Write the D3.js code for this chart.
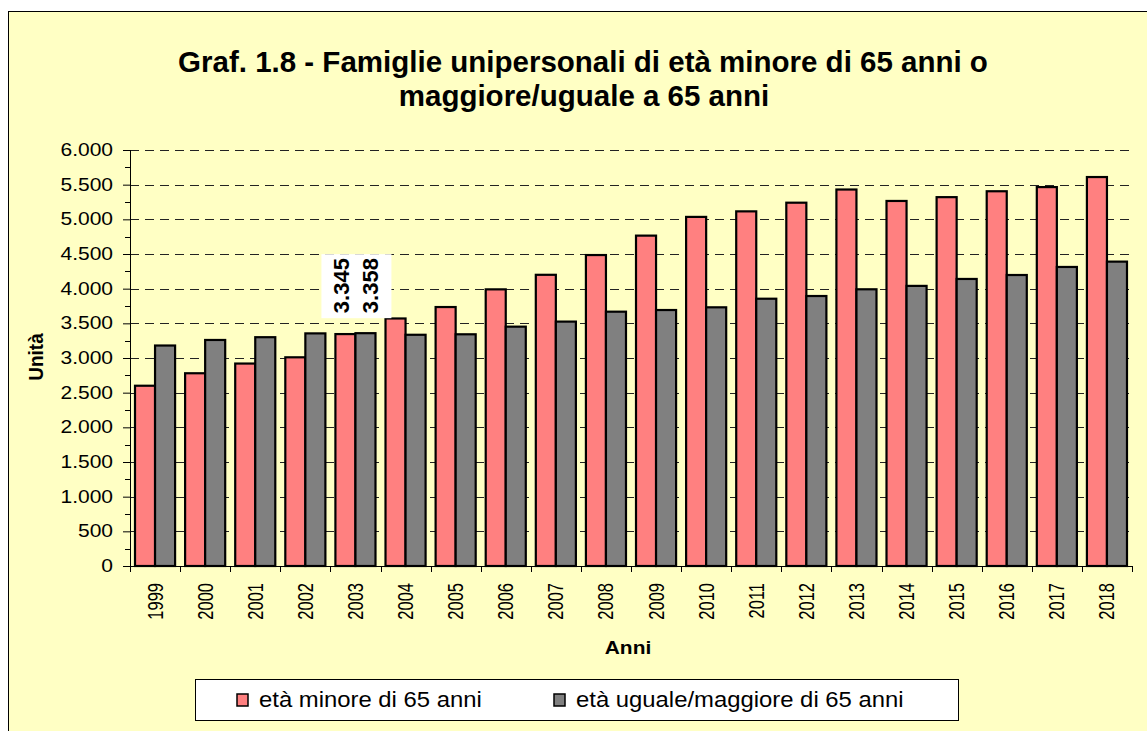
<!DOCTYPE html>
<html>
<head>
<meta charset="utf-8">
<script src="https://cdn.jsdelivr.net/npm/d3@7"></script>
<style>
  body { margin: 0; background: #fff; }
  svg { display: block; font-family: "Liberation Sans", Arial, sans-serif; }
</style>
</head>
<body>
<div id="chart"></div>
<script>
const years = ["1999", "2000", "2001", "2002", "2003", "2004", "2005", "2006", "2007", "2008",
  "2009", "2010", "2011", "2012", "2013", "2014", "2015", "2016", "2017", "2018"];
const under65 = [2600, 2780, 2920, 3010, 3345, 3570, 3735, 3990, 4200, 4485,
  4765, 5035, 5115, 5240, 5430, 5265, 5320, 5405, 5465, 5610];
const over65 = [3180, 3260, 3300, 3355, 3358, 3335, 3342, 3452, 3525, 3668,
  3692, 3731, 3855, 3894, 3991, 4040, 4140, 4197, 4313, 4390];
const seriesNames = ["età minore di 65 anni", "età uguale/maggiore di 65 anni"];
const yTicks = [0, 500, 1000, 1500, 2000, 2500, 3000, 3500, 4000, 4500, 5000, 5500, 6000];
const labelled = ["2003"];

const W = 1147, H = 731;
const colors = ["#FF8080", "#808080"];
const bg = "#FFFFC4";
const plot = { left: 130, right: 1132, top: 150, bottom: 566 };
const fmt = v => d3.format(",")(v).replace(/,/g, ".");

const svg = d3.select("#chart").append("svg")
  .attr("width", W).attr("height", H);

// sfondo del grafico
svg.append("rect")
  .attr("x", 8.5).attr("y", 11.5)
  .attr("width", W).attr("height", H)
  .attr("fill", bg).attr("stroke", "#000").attr("stroke-width", 1);

// titolo
const title = svg.append("text")
  .attr("text-anchor", "middle")
  .attr("font-weight", "bold").attr("font-size", 29.5);
title.append("tspan").attr("x", 583).attr("y", 72)
  .text("Graf. 1.8 - Famiglie unipersonali di età minore di 65 anni o");
title.append("tspan").attr("x", 584).attr("y", 106)
  .text("maggiore/uguale a 65 anni");

const x = d3.scaleBand().domain(years).range([plot.left, plot.right]).paddingInner(0.2).paddingOuter(0.1);
const xb = d3.scaleBand().domain(years).range([plot.left, plot.right]);
const xs = d3.scaleBand().domain([0, 1]).range([0, x.bandwidth()]);
const y = d3.scaleLinear().domain([0, 6000]).range([plot.bottom, plot.top]);

// griglia
svg.append("g").selectAll("line")
  .data(yTicks.filter(d => d > 0))
  .join("line")
  .attr("x1", plot.left).attr("x2", plot.right)
  .attr("y1", d => Math.round(y(d)) + 0.5).attr("y2", d => Math.round(y(d)) + 0.5)
  .attr("stroke", "#222").attr("stroke-dasharray", "9,6");

// barre
const groups = svg.append("g").selectAll("g")
  .data(years.map((yr, i) => ({ yr, vals: [under65[i], over65[i]] })))
  .join("g")
  .attr("transform", d => `translate(${x(d.yr)},0)`);

groups.selectAll("rect")
  .data(d => d.vals.map((v, k) => ({ v, k })))
  .join("rect")
  .attr("x", d => xs(d.k))
  .attr("y", d => y(d.v))
  .attr("width", xs.bandwidth())
  .attr("height", d => y(0) - y(d.v))
  .attr("fill", d => colors[d.k])
  .attr("stroke", "#000").attr("stroke-width", 2.2);

// asse y
const yAxis = svg.append("g")
  .attr("transform", `translate(${plot.left},0)`)
  .call(d3.axisLeft(y).tickValues(yTicks).tickFormat(fmt).tickSize(7));
yAxis.select(".domain").attr("d", `M0.5,${plot.top}V${plot.bottom}`).attr("stroke", "#000");
yAxis.selectAll(".tick line").attr("stroke", "#000");
yAxis.selectAll(".tick text")
  .attr("x", 0)
  .attr("transform", "translate(-17,0) scale(1.2,1)")
  .attr("font-size", 17.5).attr("fill", "#000")
  .attr("font-family", "Liberation Sans, Arial, sans-serif");

// tacche secondarie
svg.append("g").selectAll("line")
  .data(d3.range(250, 6000, 500))
  .join("line")
  .attr("x1", plot.left - 5).attr("x2", plot.left)
  .attr("y1", d => Math.round(y(d)) + 0.5).attr("y2", d => Math.round(y(d)) + 0.5)
  .attr("stroke", "#000");

// asse x
const xAxisG = svg.append("g").attr("transform", `translate(0,${plot.bottom})`);
xAxisG.append("line")
  .attr("x1", plot.left).attr("x2", plot.right)
  .attr("y1", 0.5).attr("y2", 0.5).attr("stroke", "#000");
xAxisG.selectAll("line.tk")
  .data(years.concat(["end"]))
  .join("line").attr("class", "tk")
  .attr("x1", (d, i) => Math.round(plot.left + i * xb.step()) + 0.5)
  .attr("x2", (d, i) => Math.round(plot.left + i * xb.step()) + 0.5)
  .attr("y1", 0).attr("y2", 6).attr("stroke", "#000");
xAxisG.selectAll("text")
  .data(years)
  .join("text")
  .attr("transform", d => `translate(${xb(d) + xb.bandwidth() / 2 + 7.5},17) rotate(-90) scale(1,1.32)`)
  .attr("text-anchor", "end")
  .attr("font-size", 16.5)
  .text(d => d);

// titoli degli assi
svg.append("text")
  .attr("transform", "translate(628,654) scale(1.1,1)")
  .attr("text-anchor", "middle").attr("font-weight", "bold").attr("font-size", 19)
  .text("Anni");
svg.append("text")
  .attr("transform", "translate(43,357) rotate(-90) scale(1,1.1)")
  .attr("text-anchor", "middle").attr("font-weight", "bold").attr("font-size", 19)
  .text("Unità");

// etichette dati 2003
labelled.forEach(yr => {
  const i = years.indexOf(yr);
  const vals = [under65[i], over65[i]];
  const top = y(Math.max(...vals));
  const c0 = x(yr) + xs(0) + xs.bandwidth() / 2;
  svg.append("rect")
    .attr("x", c0 - 24).attr("y", top - 79)
    .attr("width", 70).attr("height", 64)
    .attr("fill", "#fff");
  vals.forEach((v, k) => {
    const cx = x(yr) + xs(k) + xs.bandwidth() / 2;
    svg.append("text")
      .attr("transform", `translate(${cx + (k === 0 ? 4 : 13)},${top - 20}) rotate(-90)`)
      .attr("text-anchor", "start")
      .attr("font-weight", "bold").attr("font-size", 22)
      .text(fmt(v));
  });
});

// legenda
const lg = svg.append("g");
lg.append("rect")
  .attr("x", 195.5).attr("y", 679.5).attr("width", 763).attr("height", 41)
  .attr("fill", "#fff").attr("stroke", "#000");
const legendX = [237, 554];
seriesNames.forEach((name, k) => {
  lg.append("rect")
    .attr("x", legendX[k]).attr("y", 694)
    .attr("width", 11).attr("height", 12)
    .attr("fill", colors[k]).attr("stroke", "#000").attr("stroke-width", 1.5);
  lg.append("text")
    .attr("transform", `translate(${legendX[k] + 22},707) scale(1.11,1)`)
    .attr("font-size", 21.5)
    .text(name);
});
</script>
</body>
</html>
